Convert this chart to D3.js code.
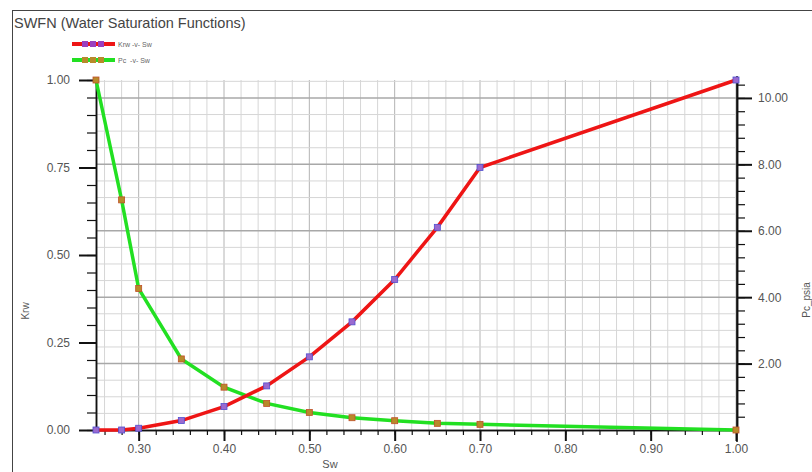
<!DOCTYPE html>
<html>
<head>
<meta charset="utf-8">
<script src="https://cdn.jsdelivr.net/npm/d3@7"></script>
<style>
  body { margin: 0; background: #fff; }
  svg { font-family: "Liberation Sans", Arial, sans-serif; }
  .axis path, .axis line { stroke: #111; }
  .axis text { fill: #555; font-size: 12px; }
</style>
</head>
<body>
<svg class="main-chart" width="812" height="472"></svg>
<script>
// saturation points
var sw = [0.25, 0.28, 0.30, 0.35, 0.40, 0.45, 0.50, 0.55, 0.60, 0.65, 0.70, 1.00];
var krw = [0, 0, 0.005, 0.027, 0.067, 0.126, 0.209, 0.309, 0.43, 0.579, 0.75, 1.0];
var pc = [10.54, 6.93, 4.26, 2.14, 1.29, 0.80, 0.53, 0.37, 0.28, 0.20, 0.17, 0];

var xTicks = [0.30, 0.40, 0.50, 0.60, 0.70, 0.80, 0.90, 1.00];
var krwTicks = [0, 0.25, 0.50, 0.75, 1.00];
var pcTicks = [2, 4, 6, 8, 10];

var svg = d3.select("svg.main-chart");

var xScale = d3.scaleLinear().domain([0.25, 1.0]).range([96, 736]);
var yScale = d3.scaleLinear().domain([0, 1]).range([430, 80]);
var y2Scale = d3.scaleLinear().domain([0, 10.54]).range([430, 80]);

// outer frame
svg.append("rect")
  .attr("x", 12.5).attr("y", 10.5)
  .attr("width", 820).attr("height", 480)
  .attr("fill", "none").attr("stroke", "#444");

svg.append("text")
  .text("SWFN (Water Saturation Functions)")
  .attr("x", 14).attr("y", 28)
  .attr("font-size", "14.5px")
  .attr("fill", "#444");

////////////////////////////////////////////////////////////////
// grid
////////////////////////////////////////////////////////////////
var grid = svg.append("g").attr("id", "grid");

grid.selectAll("line.vgrid")
  .data(d3.range(0.26, 1.0001, 0.02))
  .enter().append("line")
  .attr("class", "vgrid")
  .attr("x1", d => xScale(d)).attr("x2", d => xScale(d))
  .attr("y1", 80).attr("y2", 430)
  .attr("stroke", d => Math.abs(d * 10 - Math.round(d * 10)) < 1e-6 ? "#b4b4b4" : "#d6d6d6")
  .attr("stroke-width", 1);

grid.selectAll("line.hgrid")
  .data(d3.range(0.5, 10.6, 0.5))
  .enter().append("line")
  .attr("class", "hgrid")
  .attr("x1", 96).attr("x2", 736)
  .attr("y1", d => y2Scale(d)).attr("y2", d => y2Scale(d))
  .attr("stroke", d => d % 2 == 0 ? "#a8a8a8" : "#d6d6d6")
  .attr("stroke-width", d => d % 2 == 0 ? 1.5 : 1);

////////////////////////////////////////////////////////////////
// axes
////////////////////////////////////////////////////////////////
var xMinor = d3.axisBottom(xScale).tickValues(d3.range(0.26, 1.0001, 0.02))
  .tickSize(5).tickSizeOuter(0).tickFormat("");
var xAxis = d3.axisBottom(xScale).tickValues(xTicks)
  .tickSize(11).tickSizeOuter(0).tickPadding(3).tickFormat(d3.format(".2f"));

svg.append("g").attr("class", "axis").attr("transform", "translate(0,430)").call(xMinor);
svg.append("g").attr("class", "axis").attr("id", "xAxisG")
  .attr("transform", "translate(0,430)").call(xAxis);

var yMinor = d3.axisLeft(yScale).tickValues(d3.range(0, 1.0001, 0.05))
  .tickSize(9).tickSizeOuter(0).tickFormat("");
var yAxis = d3.axisLeft(yScale).tickValues(krwTicks)
  .tickSize(17).tickSizeOuter(0).tickPadding(9).tickFormat(d3.format(".2f"));

svg.append("g").attr("class", "axis").attr("transform", "translate(96,0)").call(yMinor);
svg.append("g").attr("class", "axis").attr("id", "yAxisG")
  .attr("transform", "translate(96,0)").call(yAxis);

var y2Minor = d3.axisRight(y2Scale).tickValues(d3.range(0.4, 10.5, 0.4))
  .tickSize(8).tickSizeOuter(0).tickFormat("");
var y2Axis = d3.axisRight(y2Scale).tickValues(pcTicks)
  .tickSize(15).tickSizeOuter(0).tickPadding(6).tickFormat(d3.format(".2f"));

svg.append("g").attr("class", "axis").attr("transform", "translate(737,0)").call(y2Minor);
svg.append("g").attr("class", "axis").attr("id", "y2AxisG")
  .attr("transform", "translate(737,0)").call(y2Axis);

// right axis runs a little below the plot
svg.append("line")
  .attr("x1", 737).attr("x2", 737).attr("y1", 76).attr("y2", 442)
  .attr("stroke", "#111").attr("stroke-width", 1.5);

svg.selectAll(".axis path.domain").attr("stroke-width", 1.5);
svg.selectAll(".axis .tick line").attr("stroke-width", 1.2);
svg.selectAll("#xAxisG .tick line, #yAxisG .tick line, #y2AxisG .tick line").attr("stroke-width", 2);

// axis titles
svg.append("text").text("Sw")
  .attr("x", 330).attr("y", 468)
  .attr("text-anchor", "middle")
  .attr("font-size", "11px").attr("fill", "#555");

svg.append("text").text("Krw")
  .attr("transform", "translate(29,311)rotate(-90)")
  .attr("text-anchor", "middle")
  .attr("font-size", "10px").attr("fill", "#555");

svg.append("text").text("Pc_psia")
  .attr("transform", "translate(810,300)rotate(-90)")
  .attr("text-anchor", "middle")
  .attr("font-size", "10px").attr("fill", "#555");

////////////////////////////////////////////////////////////////
// series
////////////////////////////////////////////////////////////////
var krwLine = d3.line().x((d, i) => xScale(sw[i])).y(d => yScale(d));
var pcLine = d3.line().x((d, i) => xScale(sw[i])).y(d => y2Scale(d));

svg.append("path").datum(pc)
  .attr("d", pcLine)
  .attr("fill", "none").attr("stroke", "#22e022").attr("stroke-width", 3.5);

svg.append("path").datum(krw)
  .attr("d", krwLine)
  .attr("fill", "none").attr("stroke", "#ee1515").attr("stroke-width", 3.5);

svg.selectAll("rect.pcpt")
  .data(pc).enter().append("rect")
  .attr("class", "pcpt")
  .attr("x", (d, i) => xScale(sw[i]) - 3).attr("y", d => y2Scale(d) - 3)
  .attr("width", 6).attr("height", 6)
  .attr("fill", "#b88a2a").attr("stroke", "#c0502a").attr("stroke-width", 0.8);

svg.selectAll("rect.krwpt")
  .data(krw).enter().append("rect")
  .attr("class", "krwpt")
  .attr("x", (d, i) => xScale(sw[i]) - 3).attr("y", d => yScale(d) - 3)
  .attr("width", 6).attr("height", 6)
  .attr("fill", "#9a6ad0").attr("stroke", "#5050d0").attr("stroke-width", 0.8);

////////////////////////////////////////////////////////////////
// legend
////////////////////////////////////////////////////////////////
var legend = [
  { name: "Krw -v- Sw", color: "#ee1515", mark: "#9a40c0", y: 44 },
  { name: "Pc  -v- Sw", color: "#22e022", mark: "#b88a2a", y: 60 }
];

var lg = svg.selectAll("g.legend").data(legend).enter().append("g").attr("class", "legend");
lg.append("line")
  .attr("x1", 72).attr("x2", 115)
  .attr("y1", d => d.y).attr("y2", d => d.y)
  .attr("stroke", d => d.color).attr("stroke-width", 4);
[85, 93, 101].forEach(function(cx) {
  lg.append("rect")
    .attr("x", cx - 3).attr("y", d => d.y - 3)
    .attr("width", 6).attr("height", 6)
    .attr("fill", d => d.mark);
});
lg.append("text")
  .text(d => d.name)
  .attr("x", 118).attr("y", d => d.y + 2.5)
  .attr("font-size", "7px").attr("fill", "#666")
  .style("white-space", "pre");
</script>
</body>
</html>
